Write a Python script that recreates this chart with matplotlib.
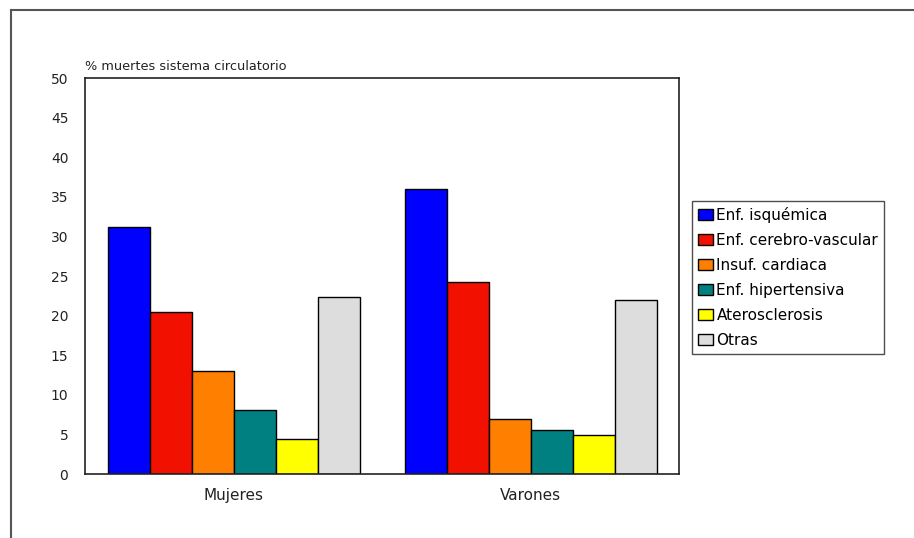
import matplotlib
matplotlib.use("Agg")
import matplotlib.pyplot as plt
from matplotlib.lines import Line2D
import numpy as np

groups = ["Mujeres", "Varones"]
causes = ["Enf. isquémica", "Enf. cerebro-vascular", "Insuf. cardiaca",
          "Enf. hipertensiva", "Aterosclerosis", "Otras"]
mujeres = [31.2, 20.5, 13.0, 8.1, 4.4, 22.4]
varones = [36.0, 24.3, 7.0, 5.5, 4.9, 22.0]
colors = ["#0000ff", "#f21000", "#ff8000", "#008080", "#ffff00", "#dddddd"]

fig = plt.figure(figsize=(9.14, 5.38), dpi=100)
ax = fig.add_axes([85 / 914, 1 - 474 / 538, 594 / 914, 396 / 538])

x = np.arange(len(groups))
width = 42 / 297
values = np.array([mujeres, varones])
for i, cause in enumerate(causes):
    offset = (i - (len(causes) - 1) / 2) * width
    ax.bar(x + offset, values[:, i], width, color=colors[i], edgecolor="black",
           linewidth=1.0, label=cause)

ax.set_xlim(-0.5, 1.5)
ax.set_ylim(0, 50)
ax.set_yticks(range(0, 51, 5))
ax.set_xticks(x)
ax.set_xticklabels(groups)
ax.tick_params(axis="both", length=0, labelsize=10, colors="#222222")
ax.tick_params(axis="x", labelsize=11)
ax.tick_params(axis="y", pad=12)
ax.tick_params(axis="x", pad=10)
for s in ax.spines.values():
    s.set_linewidth(1.2)
    s.set_color("#222222")

fig.text(85 / 914, 1 - 66 / 538, "% muertes sistema circulatorio",
         fontsize=9.3, color="#222222", ha="left", va="center")

leg = ax.legend(loc="upper left", bbox_to_anchor=(692 / 914, 1 - 201 / 538),
                bbox_transform=fig.transFigure, frameon=True, fancybox=False,
                fontsize=11, handlelength=1.0, handleheight=0.7,
                handletextpad=0.2, labelspacing=0.65, borderpad=0.4,
                borderaxespad=0)
leg.get_frame().set_edgecolor("#222222")
leg.get_frame().set_linewidth(1.0)

# outer chart border (top and left)
fig.add_artist(Line2D([11 / 914, 1], [1 - 10 / 538, 1 - 10 / 538],
                      transform=fig.transFigure, color="#555555", linewidth=1.5))
fig.add_artist(Line2D([11 / 914, 11 / 914], [0, 1 - 10 / 538],
                      transform=fig.transFigure, color="#555555", linewidth=1.5))

fig.savefig("out.png", dpi=100)
